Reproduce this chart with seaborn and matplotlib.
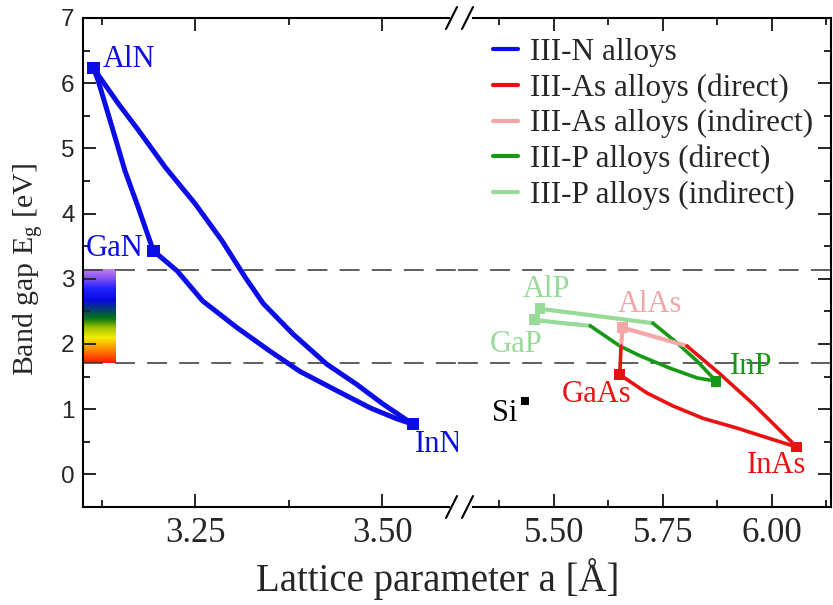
import numpy as np
import pandas as pd
import matplotlib.pyplot as plt
import seaborn as sns
from matplotlib.colors import LinearSegmentedColormap
from matplotlib.lines import Line2D

# ---- data ----
# III-N (left panel)
aln = (3.114, 6.23)
gan = (3.194, 3.43)
inn = (3.541, 0.77)
aln_inn_x = [3.114, 3.147, 3.174, 3.210, 3.250, 3.286, 3.317, 3.341, 3.381, 3.426,
             3.466, 3.501, 3.541]
aln_inn_y = [6.23, 5.69, 5.28, 4.71, 4.15, 3.58, 3.02, 2.62, 2.15, 1.69,
             1.38, 1.08, 0.77]
gan_inn_x = [3.194, 3.226, 3.260, 3.306, 3.350, 3.390, 3.440, 3.484, 3.520, 3.541]
gan_inn_y = [3.43, 3.12, 2.66, 2.25, 1.89, 1.58, 1.28, 1.02, 0.85, 0.77]
aln_gan_x = [3.114, 3.120, 3.139, 3.156, 3.174, 3.194]
aln_gan_y = [6.23, 6.05, 5.32, 4.66, 4.09, 3.43]

# III-As / III-P (right panel)
alp = (5.468, 2.54)
gap_ = (5.455, 2.37)
alas = (5.658, 2.25)
gaas = (5.651, 1.53)
inp = (5.872, 1.43)
inas = (6.057, 0.42)
si = (5.433, 1.12)

# indirect parts
alp_gap_x, alp_gap_y = [5.468, 5.455], [2.54, 2.37]
alp_inp_ind_x, alp_inp_ind_y = [5.468, 5.727], [2.54, 2.32]
gap_inp_ind_x, gap_inp_ind_y = [5.455, 5.520, 5.583], [2.37, 2.32, 2.28]
alas_inas_ind_x, alas_inas_ind_y = [5.658, 5.805], [2.25, 1.97]
alas_gaas_ind_x, alas_gaas_ind_y = [5.658, 5.654], [2.25, 1.97]
# direct parts
alp_inp_dir_x, alp_inp_dir_y = [5.727, 5.782, 5.828, 5.872], [2.32, 2.02, 1.74, 1.43]
gap_inp_dir_x = [5.583, 5.651, 5.697, 5.766, 5.828, 5.872]
gap_inp_dir_y = [2.28, 1.97, 1.82, 1.63, 1.48, 1.43]
alas_inas_dir_x = [5.805, 5.881, 5.957, 6.057]
alas_inas_dir_y = [1.97, 1.54, 1.08, 0.42]
alas_gaas_dir_x, alas_gaas_dir_y = [5.654, 5.651], [1.97, 1.53]
gaas_inas_x = [5.651, 5.713, 5.773, 5.842, 5.920, 5.995, 6.057]
gaas_inas_y = [1.53, 1.25, 1.05, 0.86, 0.71, 0.55, 0.42]

visible_lo, visible_hi = 1.71, 3.14

legend_labels = ["III-N alloys", "III-As alloys (direct)", "III-As alloys (indirect)",
                 "III-P alloys (direct)", "III-P alloys (indirect)"]

blue = "#0c0ce6"
red = "#e81212"
pink = "#f4a6a6"
green = "#169a16"
lgreen = "#98da98"

sns.set_style("ticks")
plt.rcParams['font.family'] = ['Liberation Serif', 'DejaVu Serif']
plt.rcParams['mathtext.fontset'] = 'custom'
plt.rcParams['mathtext.rm'] = 'Liberation Serif'
plt.rcParams['mathtext.it'] = 'Liberation Serif'

W, H = 833, 605
fig = plt.figure(figsize=(8.33, 6.05), dpi=100)
L, R, T, B, BRK = 83, 831, 18, 507, 458
ax1 = fig.add_axes([L / W, 1 - B / H, (BRK - L) / W, (B - T) / H])
ax2 = fig.add_axes([BRK / W, 1 - B / H, (R - BRK) / W, (B - T) / H])

ax1.set_xlim(3.1, 3.1 + (BRK - L) / 748)
ax2.set_xlim(5.28, 5.28 + (R - BRK) / 436)
for ax in (ax1, ax2):
    ax.set_ylim(-0.5, 7)

# visible spectrum bar
cmap = LinearSegmentedColormap.from_list("vis", [
    (0.0, "#ff1800"), (0.13, "#ff8000"), (0.27, "#f4ee00"), (0.38, "#9cc000"),
    (0.47, "#0a7a12"), (0.56, "#064468"), (0.67, "#0808e0"), (0.8, "#2424ff"),
    (0.9, "#8050f4"), (1.0, "#c080ee")])
ax1.imshow(np.linspace(0, 1, 200)[:, None], extent=[3.1, 3.144, visible_lo, visible_hi],
           origin="lower", aspect="auto", cmap=cmap, zorder=0)

for ax in (ax1, ax2):
    for yv in (visible_lo, visible_hi):
        ax.axhline(yv, color="#333333", lw=1.1, dashes=(13, 8), zorder=1)

# III-N curves
for xs, ys in [(aln_inn_x, aln_inn_y), (gan_inn_x, gan_inn_y), (aln_gan_x, aln_gan_y)]:
    sns.lineplot(x=xs, y=ys, sort=False, estimator=None, color=blue, lw=3.6, ax=ax1)
sns.scatterplot(x=[aln[0], gan[0], inn[0]], y=[aln[1], gan[1], inn[1]], marker="s",
                s=80, color=blue, edgecolor="none", ax=ax1, zorder=5)

# III-As / III-P curves
segs = [
    (alp_gap_x, alp_gap_y, lgreen, 3.0),
    (alp_inp_ind_x, alp_inp_ind_y, lgreen, 3.0),
    (gap_inp_ind_x, gap_inp_ind_y, lgreen, 3.0),
    (alp_inp_dir_x, alp_inp_dir_y, green, 2.6),
    (gap_inp_dir_x, gap_inp_dir_y, green, 2.6),
    (alas_inas_ind_x, alas_inas_ind_y, pink, 3.0),
    (alas_gaas_ind_x, alas_gaas_ind_y, pink, 3.0),
    (alas_inas_dir_x, alas_inas_dir_y, red, 2.6),
    (alas_gaas_dir_x, alas_gaas_dir_y, red, 2.6),
    (gaas_inas_x, gaas_inas_y, red, 2.6),
]
for xs, ys, c, w in segs:
    sns.lineplot(x=xs, y=ys, sort=False, estimator=None, color=c, lw=w, ax=ax2)

pts = pd.DataFrame({
    "x": [alp[0], gap_[0], alas[0], gaas[0], inp[0], inas[0]],
    "y": [alp[1], gap_[1], alas[1], gaas[1], inp[1], inas[1]],
    "c": [lgreen, lgreen, pink, red, green, red]})
ax2.scatter(pts["x"], pts["y"], marker="s", s=60, c=pts["c"], edgecolors="none", zorder=5)
sns.scatterplot(x=[si[0]], y=[si[1]], marker="s", s=34, color="black", edgecolor="none",
                ax=ax2, zorder=5)

# labels
fs = 22
ax1.text(3.127, 6.37, "AlN", color=blue, fontsize=fs, ha="left", va="center")
ax1.text(3.104, 3.46, "GaN", color=blue, fontsize=fs, ha="left", va="center")
ax1.text(3.544, 0.46, "InN", color=blue, fontsize=fs, ha="left", va="center")
ax2.text(5.358, 0.94, "Si", color="black", fontsize=fs, ha="left", va="center")
ax2.text(5.518, 1.23, "GaAs", color=red, fontsize=fs, ha="left", va="center")
ax2.text(5.943, 0.14, "InAs", color=red, fontsize=fs, ha="left", va="center")
ax2.text(5.904, 1.65, "InP", color=green, fontsize=fs, ha="left", va="center")
ax2.text(5.647, 2.60, "AlAs", color=pink, fontsize=fs, ha="left", va="center")
ax2.text(5.429, 2.83, "AlP", color=lgreen, fontsize=fs, ha="left", va="center")
ax2.text(5.353, 2.00, "GaP", color=lgreen, fontsize=fs, ha="left", va="center")

# axes styling
for ax in (ax1, ax2):
    for sp in ax.spines.values():
        sp.set_linewidth(1.5)
        sp.set_color("black")
ax1.spines["right"].set_visible(False)
ax2.spines["left"].set_visible(False)

ax1.set_xticks([3.25, 3.5])
ax1.set_xticklabels(["3.25", "3.50"])
ax1.set_xticks([3.125, 3.375], minor=True)
ax2.set_xticks([5.5, 5.75, 6.0])
ax2.set_xticklabels(["5.50", "5.75", "6.00"])
ax2.set_xticks([5.375, 5.625, 5.875, 6.125], minor=True)
for ax in (ax1, ax2):
    ax.set_yticks(range(0, 8))
    ax.set_yticks(np.arange(-0.5, 7, 0.5), minor=True)
    ax.tick_params(axis="both", which="major", direction="in", length=9.5, width=1.4,
                   top=True, bottom=True)
    ax.tick_params(axis="both", which="minor", direction="in", length=5, width=1.4,
                   top=True, bottom=True)
    ax.tick_params(axis="x", labelsize=25, pad=7)
ax1.tick_params(axis="y", which="both", left=True, right=False)
ax1.tick_params(axis="y", labelsize=17.5, pad=6)
for lab in ax1.get_yticklabels():
    lab.set_fontfamily("Liberation Sans")
ax2.tick_params(axis="y", which="both", left=False, right=True, labelleft=False)
ax1.set_xlabel("")
ax1.set_ylabel("")
ax2.set_xlabel("")
ax2.set_ylabel("")

# legend
handles = [Line2D([], [], color=c, lw=3) for c in (blue, red, pink, green, lgreen)]
leg = fig.legend(handles, legend_labels, loc="upper left",
                 bbox_to_anchor=(493 / W, 1 - 38 / H), frameon=False, fontsize=22.5,
                 handlelength=0.8, handletextpad=0.4, labelspacing=0.2,
                 borderaxespad=0, borderpad=0)

# axis titles
fig.text(438 / W, 1 - 579 / H, "Lattice parameter a [Å]", fontsize=28,
         ha="center", va="center")
fig.text(28 / W, 1 - 270 / H, r"Band gap E$_\mathrm{g}$ [eV]", fontsize=21.5,
         ha="center", va="center", rotation=90)

# axis break marks
def px(xp, yp):
    return xp / W, 1 - yp / H

for yb in (T, B):
    fig.add_artist(Line2D([px(452, yb)[0], px(470, yb)[0]], [px(452, yb)[1]] * 2,
                          color="white", lw=3, transform=fig.transFigure))
    for dx in (0, 16):
        x0, y0 = px(446 + dx, yb + 11)
        x1, y1 = px(457 + dx, yb - 11)
        fig.add_artist(Line2D([x0, x1], [y0, y1], color="black", lw=1.5,
                              transform=fig.transFigure))

fig.savefig("out.png", dpi=100)
